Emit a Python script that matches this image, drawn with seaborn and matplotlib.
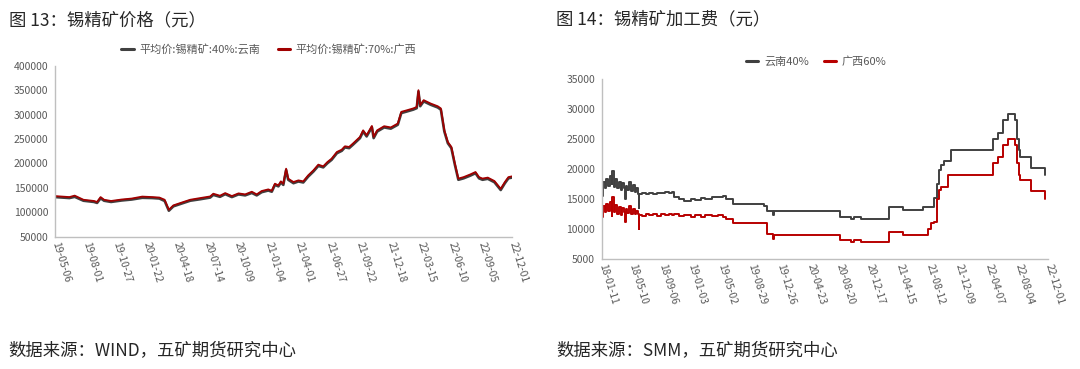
import matplotlib
matplotlib.use('Agg')
import matplotlib.pyplot as plt
import pandas as pd
import seaborn as sns

sns.set_style('white')
plt.rcParams['font.family'] = ['Noto Sans CJK SC', 'DejaVu Sans']
plt.rcParams['axes.unicode_minus'] = False

# ---- 图13 锡精矿价格 ----
price_dates = [
    '2019-05-06', '2019-06-16', '2019-07-01', '2019-07-26', '2019-08-25', '2019-09-03',
    '2019-09-13', '2019-09-23', '2019-10-13', '2019-11-12', '2019-12-11', '2020-01-10',
    '2020-02-08', '2020-02-28', '2020-03-14', '2020-03-26', '2020-04-08', '2020-05-07',
    '2020-05-26', '2020-06-23', '2020-07-22', '2020-07-31', '2020-08-19', '2020-09-03',
    '2020-09-22', '2020-10-11', '2020-10-30', '2020-11-18', '2020-12-02', '2020-12-16',
    '2021-01-04', '2021-01-14', '2021-01-23', '2021-02-02', '2021-02-09', '2021-02-16',
    '2021-02-24', '2021-03-02', '2021-03-17', '2021-03-31', '2021-04-14', '2021-04-28',
    '2021-05-13', '2021-05-27', '2021-06-10', '2021-06-22', '2021-07-04', '2021-07-19',
    '2021-08-02', '2021-08-11', '2021-08-23', '2021-09-03', '2021-09-23', '2021-10-02',
    '2021-10-12', '2021-10-27', '2021-11-01', '2021-11-11', '2021-12-01', '2021-12-20',
    '2022-01-09', '2022-01-19', '2022-02-03', '2022-02-22', '2022-03-04', '2022-03-09',
    '2022-03-14', '2022-03-24', '2022-04-13', '2022-05-03', '2022-05-12', '2022-05-22',
    '2022-06-01', '2022-06-11', '2022-06-21', '2022-07-01', '2022-07-16', '2022-08-04',
    '2022-08-19', '2022-08-29', '2022-09-08', '2022-09-23', '2022-10-12', '2022-10-30',
    '2022-11-11', '2022-11-21', '2022-12-01',
]
price_guangxi_70 = [
    133000, 131000, 134000, 125500, 123000, 121000,
    131000, 125500, 123000, 126000, 128000, 132000,
    131000, 130000, 125500, 105000, 114000, 121000,
    125500, 128900, 132300, 137900, 133800, 139200,
    133100, 138600, 136500, 142000, 136500, 143400,
    146800, 144000, 158500, 155000, 163300, 158500,
    189300, 168700, 161900, 165300, 163300, 175600,
    185900, 197600, 194100, 203000, 209900, 223600,
    228400, 235300, 233900, 241000, 254500, 268000,
    258000, 277000, 254500, 268000, 276500, 274000,
    282000, 306000, 309000, 313000, 316000, 350500,
    320000, 330000, 323000, 317500, 313000, 268000,
    244000, 234000, 200000, 169000, 172000, 177500,
    182500, 172000, 169000, 171000, 164000, 148000,
    162000, 172000, 173500,
]
price_yunnan_40 = [
    131000, 129000, 131500, 123500, 121000, 119000,
    128500, 123500, 121000, 124000, 126000, 129500,
    129000, 128000, 123000, 103000, 112000, 119000,
    123500, 126500, 130000, 135500, 131500, 137000,
    131000, 136500, 134500, 139500, 134500, 141000,
    144500, 142000, 156000, 153000, 161000, 156000,
    186500, 166500, 159500, 163000, 161000, 173000,
    183500, 195000, 192000, 200500, 207500, 221000,
    226000, 233000, 231500, 238500, 252000, 265500,
    255500, 274500, 252000, 265500, 274000, 271500,
    279500, 303500, 306500, 310500, 313500, 347500,
    317500, 327500, 320500, 315000, 310500, 265500,
    241500, 231500, 197500, 166500, 169500, 175000,
    180000, 169500, 166500, 168500, 161500, 145500,
    159500, 169500, 171000,
]
price_ticks = [
    '2019-05-06', '2019-08-01', '2019-10-27', '2020-01-22', '2020-04-18', '2020-07-14',
    '2020-10-09', '2021-01-04', '2021-04-01', '2021-06-27', '2021-09-22', '2021-12-18',
    '2022-03-15', '2022-06-10', '2022-09-05', '2022-12-01',
]

# ---- 图14 锡精矿加工费 ----
fee_dates = [
    '2018-01-11', '2018-01-16', '2018-01-22', '2018-01-29', '2018-02-05', '2018-02-12',
    '2018-02-19', '2018-02-22', '2018-02-27', '2018-03-06', '2018-03-13', '2018-03-20',
    '2018-03-27', '2018-04-03', '2018-04-10', '2018-04-12', '2018-04-16', '2018-04-23',
    '2018-04-30', '2018-05-08', '2018-05-15', '2018-05-22', '2018-05-29', '2018-06-05',
    '2018-06-07', '2018-06-10', '2018-06-20', '2018-07-05', '2018-07-20', '2018-08-05',
    '2018-08-20', '2018-09-05', '2018-09-20', '2018-10-05', '2018-10-20', '2018-10-26',
    '2018-11-15', '2018-12-07', '2019-01-01', '2019-01-20', '2019-02-10', '2019-03-01',
    '2019-03-28', '2019-04-20', '2019-05-10', '2019-05-22', '2019-06-19', '2019-10-22',
    '2019-11-04', '2019-11-25', '2019-12-02', '2020-08-21', '2020-10-02', '2020-10-16',
    '2020-11-12', '2021-03-04', '2021-04-28', '2021-07-20', '2021-08-06', '2021-08-20',
    '2021-08-31', '2021-09-14', '2021-09-21', '2021-09-28', '2021-10-11', '2021-10-25',
    '2021-11-08', '2022-04-23', '2022-05-14', '2022-06-04', '2022-06-25', '2022-07-23',
    '2022-07-29', '2022-08-05', '2022-08-12', '2022-09-23', '2022-11-17', '2022-11-20',
]
fee_yunnan_40 = [
    15500, 17800, 16900, 18300, 17200, 18900,
    17500, 19700, 17000, 18400, 16900, 17900,
    16600, 17700, 16800, 15000, 17200, 16500,
    17800, 16400, 17300, 16200, 16800, 15900,
    13600, 15800, 16000, 15800, 16100, 15900,
    16100, 16000, 16200, 16000, 16200, 15400,
    15000, 14700, 15000, 14800, 15200, 15000,
    15400, 15300, 15500, 15100, 14200, 13800,
    13100, 12400, 13000, 12100, 11700, 12100,
    11700, 13700, 13200, 13700, 13700, 13700,
    15200, 17600, 19900, 20700, 21300, 21300,
    23200, 25000, 26100, 28200, 29200, 28200,
    25100, 23200, 22100, 20200, 19000, 19000,
]
fee_guangxi_60 = [
    12000, 13800, 12900, 14200, 13000, 14500,
    12200, 15300, 12800, 14000, 12600, 13700,
    12400, 13600, 12900, 11100, 13300, 12700,
    13800, 12600, 13300, 12500, 13000, 12600,
    10000, 12400, 12200, 12500, 12300, 12600,
    12200, 12500, 12300, 12600, 12300, 12500,
    12200, 12300, 12000, 12300, 12100, 12400,
    12200, 12300, 12000, 11700, 11000, 11000,
    9200, 8300, 9000, 8200, 7800, 8100,
    7800, 9500, 9000, 9000, 10000, 11000,
    11100, 15100, 16500, 17100, 17100, 19000,
    19000, 21000, 22100, 24000, 25100, 24000,
    21000, 19000, 18200, 16300, 15000, 15000,
]
fee_ticks = [
    '2018-01-11', '2018-05-10', '2018-09-06', '2019-01-03', '2019-05-02', '2019-08-29',
    '2019-12-26', '2020-04-23', '2020-08-20', '2020-12-17', '2021-04-15', '2021-08-12',
    '2021-12-09', '2022-04-07', '2022-08-04', '2022-12-01',
]

price_df = pd.DataFrame({
    'date': pd.to_datetime(price_dates),
    'yunnan': price_yunnan_40,
    'guangxi': price_guangxi_70,
})
fee_df = pd.DataFrame({
    'date': pd.to_datetime(fee_dates),
    'yunnan': fee_yunnan_40,
    'guangxi': fee_guangxi_60,
})

BLACK = '#404040'
RED = '#b80000'
GREY_TXT = '#595959'
SPINE = '#bfbfbf'

fig = plt.figure(figsize=(10.8, 3.69), dpi=100)
ax1 = fig.add_axes([0.051, 0.359, 0.423, 0.462])
ax2 = fig.add_axes([0.5574, 0.298, 0.413, 0.487])

# left chart
sns.lineplot(data=price_df, x='date', y='yunnan', ax=ax1, color=BLACK, lw=1.9,
             label='平均价:锡精矿:40%:云南')
sns.lineplot(data=price_df, x='date', y='guangxi', ax=ax1, color='#a00000', lw=1.3,
             label='平均价:锡精矿:70%:广西')
ax1.set_ylim(50000, 400000)
ax1.set_yticks(range(50000, 400001, 50000))
ax1.set_xlim(pd.Timestamp(price_ticks[0]), pd.Timestamp(price_ticks[-1]))
ax1.set_xticks(pd.to_datetime(price_ticks))
ax1.set_xticklabels([t[2:] for t in price_ticks])

# right chart
sns.lineplot(data=fee_df, x='date', y='yunnan', ax=ax2, color=BLACK, lw=1.4,
             drawstyle='steps-post', label='云南40%')
sns.lineplot(data=fee_df, x='date', y='guangxi', ax=ax2, color=RED, lw=1.4,
             drawstyle='steps-post', label='广西60%')
ax2.set_ylim(5000, 35000)
ax2.set_yticks(range(5000, 35001, 5000))
ax2.set_xlim(pd.Timestamp(fee_ticks[0]), pd.Timestamp(fee_ticks[-1]))
ax2.set_xticks(pd.to_datetime(fee_ticks))
ax2.set_xticklabels([t[2:] for t in fee_ticks])

for ax in (ax1, ax2):
    ax.set_xlabel('')
    ax.set_ylabel('')
    ax.get_legend().remove()
    for s in ('top', 'right'):
        ax.spines[s].set_visible(False)
    for s in ('left', 'bottom'):
        ax.spines[s].set_color(SPINE)
        ax.spines[s].set_linewidth(1.0)
    ax.tick_params(axis='y', labelsize=7.5, colors=SPINE, labelcolor=GREY_TXT,
                   length=3, width=0.8, pad=2)
    ax.tick_params(axis='x', labelsize=7.5, colors=SPINE, labelcolor=GREY_TXT,
                   length=0, pad=4)
    for lab in ax.get_xticklabels():
        lab.set_rotation(-73)
        lab.set_ha('left')
        lab.set_va('center')
        lab.set_rotation_mode('anchor')

h1, l1 = ax1.get_legend_handles_labels()
fig.legend(h1, l1, loc='center', bbox_to_anchor=(0.249, 0.867), ncol=2, frameon=False,
           fontsize=8, labelcolor=GREY_TXT, handlelength=1.1, handletextpad=0.5,
           columnspacing=1.6)
h2, l2 = ax2.get_legend_handles_labels()
fig.legend(h2, l2, loc='center', bbox_to_anchor=(0.756, 0.832), ncol=2, frameon=False,
           fontsize=8, labelcolor=GREY_TXT, handlelength=1.1, handletextpad=0.5,
           columnspacing=1.4)
for leg in fig.legends:
    for line in leg.get_lines():
        line.set_linewidth(2.2)

fig.text(0.008, 0.946, '图 13：锡精矿价格（元）', fontsize=12.5, va='center', ha='left')
fig.text(0.515, 0.948, '图 14：锡精矿加工费（元）', fontsize=12.5, va='center', ha='left')
fig.text(0.008, 0.052, '数据来源：WIND，五矿期货研究中心', fontsize=12.5, va='center', ha='left')
fig.text(0.515, 0.052, '数据来源：SMM，五矿期货研究中心', fontsize=12.5, va='center', ha='left')

fig.savefig('out.png', dpi=100)
